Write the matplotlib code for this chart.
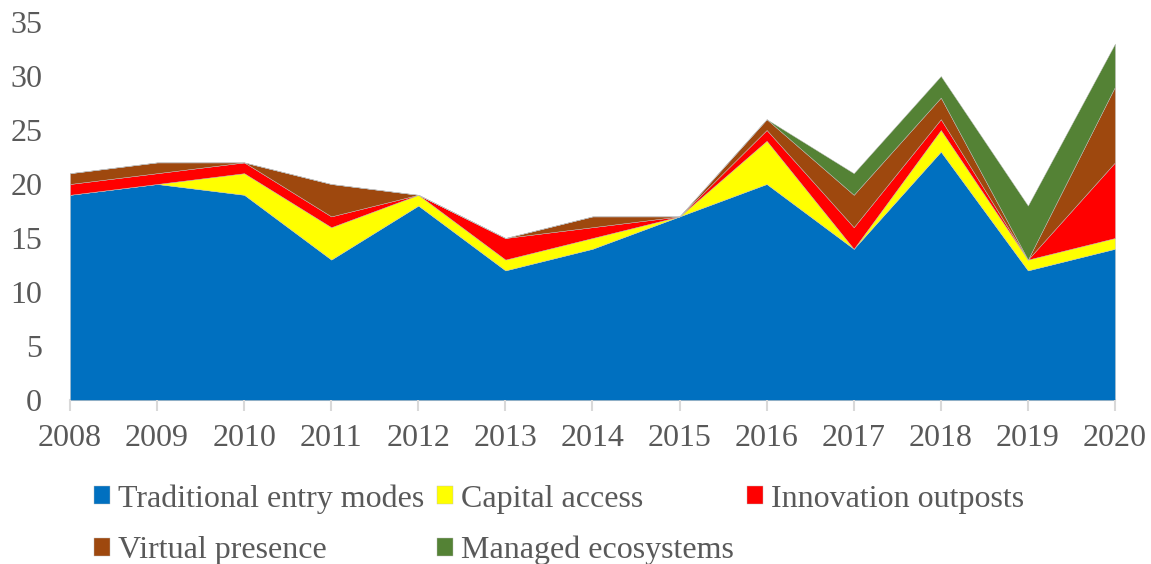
import matplotlib
matplotlib.use('Agg')
import numpy as np
from matplotlib import pyplot as plt

years = [2008, 2009, 2010, 2011, 2012, 2013, 2014, 2015, 2016, 2017, 2018, 2019, 2020]
traditional = [19, 20, 19, 13, 18, 12, 14, 17, 20, 14, 23, 12, 14]
capital = [0, 0, 2, 3, 1, 1, 1, 0, 4, 0, 2, 1, 1]
innovation = [1, 1, 1, 1, 0, 2, 1, 0, 1, 2, 1, 0, 7]
virtual = [1, 1, 0, 3, 0, 0, 1, 0, 1, 3, 2, 0, 7]
managed = [0, 0, 0, 0, 0, 0, 0, 0, 0, 2, 2, 5, 4]

labels = ['Traditional entry modes', 'Capital access', 'Innovation outposts',
          'Virtual presence', 'Managed ecosystems']
colors = ['#0070C0', '#FFFF00', '#FF0000', '#9E480E', '#548235']
yticks = [0, 5, 10, 15, 20, 25, 30, 35]

plt.rcParams['font.family'] = ['Liberation Serif', 'DejaVu Serif']
grey = '#595959'
fs = 23

fig = plt.figure(figsize=(11.51, 5.64), dpi=100)
ax = fig.add_axes([0.0608, 0.2908, 0.9079, 0.6702])

ax.stackplot(years, traditional, capital, innovation, virtual, managed,
             labels=labels, colors=colors, linewidth=0.3, edgecolor='#bfbfbf')

ax.set_xlim(years[0], years[-1])
ax.set_ylim(0, 35)
ax.set_yticks(yticks)
ax.set_xticks(years)

for s in ['top', 'right', 'left']:
    ax.spines[s].set_visible(False)
ax.spines['bottom'].set_color('#d9d9d9')
ax.spines['bottom'].set_linewidth(1.5)
ax.spines['bottom'].set_zorder(0.5)

ax.tick_params(axis='y', length=0, labelsize=fs, labelcolor=grey, pad=20)
ax.tick_params(axis='x', direction='out', length=8, width=1.5, color='#d9d9d9',
               labelsize=fs, labelcolor=grey, pad=9)

order = [0, 3, 1, 4, 2]
h, l = ax.get_legend_handles_labels()
leg = fig.legend([h[i] for i in order], [l[i] for i in order],
                 loc='upper left', bbox_to_anchor=(0.068, 0.17), ncol=3,
                 frameon=False, fontsize=fs, labelcolor=grey,
                 handlelength=0.5, handleheight=0.5, handletextpad=0.25,
                 columnspacing=0.4, labelspacing=0.7, borderpad=0)

fig.savefig('out.png', dpi=100)
